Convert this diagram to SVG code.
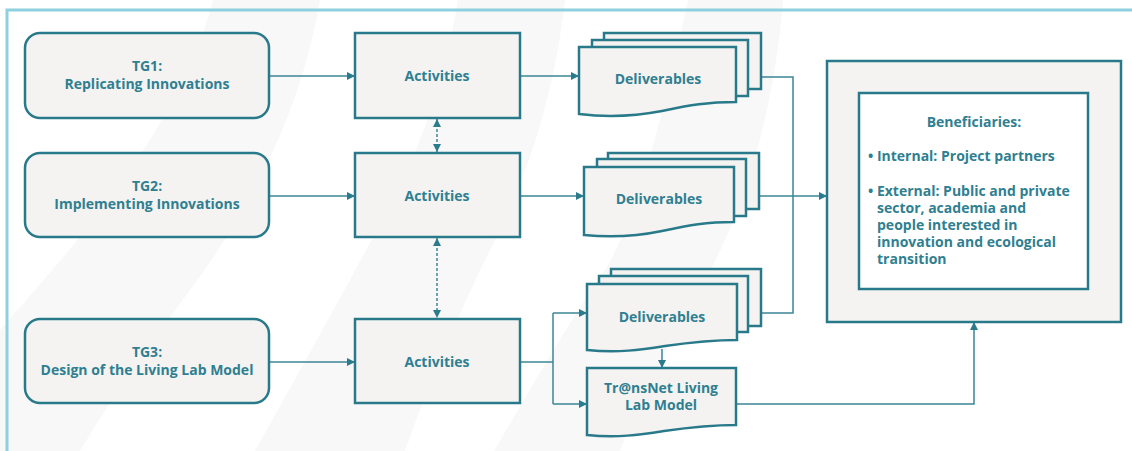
<svg xmlns="http://www.w3.org/2000/svg" width="1132" height="451" viewBox="0 0 1132 451">
  <defs>
    <style>
      .band { fill: #f8f8f8; }
      .frame { fill: none; stroke: #8fd0e0; stroke-width: 3; }
      .box { fill: #f4f3f1; stroke: #287a8b; stroke-width: 2.5; }
      .inner { fill: #ffffff; stroke: #287a8b; stroke-width: 2.5; }
      .conn { fill: none; stroke: #3b8696; stroke-width: 1.5; }
      .dash { stroke-dasharray: 3 2; }
      .lbl { font-family: "Open Sans", "Noto Sans", "Liberation Sans", sans-serif; font-weight: 700; font-size: 14px; fill: #2f7f91; text-anchor: middle; }
      .left { text-anchor: start; }
    </style>
    <marker id="arrow" viewBox="0 0 10 10" refX="10" refY="5" markerWidth="8" markerHeight="8" markerUnits="userSpaceOnUse" orient="auto">
      <path d="M0,0 L10,5 L0,10 Z" fill="#2b7b8c"/>
    </marker>
    <marker id="arrowStart" viewBox="0 0 10 10" refX="0" refY="5" markerWidth="8" markerHeight="8" markerUnits="userSpaceOnUse" orient="auto">
      <path d="M10,0 L0,5 L10,10 Z" fill="#2b7b8c"/>
    </marker>
  </defs>

  <!-- faint background sweeps -->
  <g id="background">
    <rect width="1132" height="451" fill="#ffffff"/>
    <path class="band" d="M213,0 H320 C305,90 265,190 190,290 C150,345 110,400 80,451 H0 V330 C70,250 180,130 213,0 Z"/>
    <path class="band" d="M458,0 H565 C555,90 530,170 495,240 C460,310 430,380 405,451 H255 C300,370 345,290 385,215 C420,150 445,80 458,0 Z"/>
    <path class="band" d="M688,0 H783 C775,100 750,200 705,280 C670,340 640,400 620,451 H494 C530,390 570,320 605,270 C635,220 655,150 688,0 Z"/>
  </g>

  <!-- outer frame -->
  <path class="frame" d="M7,451 V10 H1132"/>

  <!-- connectors -->
  <g id="connectors">
    <path class="conn" d="M269,76 H355" marker-end="url(#arrow)"/>
    <path class="conn" d="M269,196 H355" marker-end="url(#arrow)"/>
    <path class="conn" d="M269,362 H355" marker-end="url(#arrow)"/>
    <path class="conn" d="M520,76 H579" marker-end="url(#arrow)"/>
    <path class="conn" d="M520,196 H584" marker-end="url(#arrow)"/>
    <path class="conn" d="M520,362 H553"/>
    <path class="conn" d="M553,313 V404"/>
    <path class="conn" d="M553,313 H587" marker-end="url(#arrow)"/>
    <path class="conn" d="M553,404 H587" marker-end="url(#arrow)"/>
    <path class="conn dash" d="M437,119 V152" marker-start="url(#arrowStart)" marker-end="url(#arrow)"/>
    <path class="conn dash" d="M437,238 V318" marker-start="url(#arrowStart)" marker-end="url(#arrow)"/>
    <path class="conn" d="M761,77 H793 V313 H761"/>
    <path class="conn" d="M759,196 H827" marker-end="url(#arrow)"/>
    <path class="conn" d="M662,349 V368" marker-end="url(#arrow)"/>
    <path class="conn" d="M736,404 H974 V322" marker-end="url(#arrow)"/>
  </g>

  <!-- task groups -->
  <g id="tg1">
    <rect class="box" x="25" y="33" width="244" height="85" rx="15"/>
    <text class="lbl" x="147" y="71">TG1:</text>
    <text class="lbl" x="147" y="89">Replicating Innovations</text>
  </g>
  <g id="tg2">
    <rect class="box" x="25" y="153" width="244" height="84" rx="15"/>
    <text class="lbl" x="147" y="191">TG2:</text>
    <text class="lbl" x="147" y="209">Implementing Innovations</text>
  </g>
  <g id="tg3">
    <rect class="box" x="25" y="319" width="244" height="84" rx="15"/>
    <text class="lbl" x="147" y="357">TG3:</text>
    <text class="lbl" x="147" y="375">Design of the Living Lab Model</text>
  </g>

  <!-- activities -->
  <g id="activities1">
    <rect class="box" x="355" y="33" width="165" height="85"/>
    <text class="lbl" x="437" y="81">Activities</text>
  </g>
  <g id="activities2">
    <rect class="box" x="355" y="153" width="165" height="84"/>
    <text class="lbl" x="437" y="201">Activities</text>
  </g>
  <g id="activities3">
    <rect class="box" x="355" y="319" width="165" height="84"/>
    <text class="lbl" x="437" y="367">Activities</text>
  </g>

  <!-- deliverable stacks -->
  <g id="deliverables1">
    <rect class="box" x="604" y="33" width="157" height="56"/>
    <rect class="box" x="592" y="40" width="156" height="56"/>
    <path class="box" d="M579,47 H736 V102 C708,102 690,105 662,111 C636,116 612,118 579,114 Z"/>
    <text class="lbl" x="658" y="84">Deliverables</text>
  </g>
  <g id="deliverables2">
    <rect class="box" x="608" y="153" width="151" height="56"/>
    <rect class="box" x="597" y="159" width="149" height="57"/>
    <path class="box" d="M584,167 H734 V222 C706,222 690,225 662,231 C638,236 615,238 584,235 Z"/>
    <text class="lbl" x="659" y="204">Deliverables</text>
  </g>
  <g id="deliverables3">
    <rect class="box" x="611" y="269" width="150" height="57"/>
    <rect class="box" x="599" y="276" width="149" height="56"/>
    <path class="box" d="M587,284 H737 V340 C710,340 693,342 665,346 C640,350 618,353 587,350 Z"/>
    <text class="lbl" x="662" y="322">Deliverables</text>
  </g>
  <g id="living-lab-model">
    <path class="box" d="M587,368 H736 V425 C709,425 692,427 664,431 C639,435 617,438 587,435 Z"/>
    <text class="lbl" x="661" y="393">Tr@nsNet Living</text>
    <text class="lbl" x="661" y="410">Lab Model</text>
  </g>

  <!-- beneficiaries -->
  <g id="beneficiaries">
    <rect class="box" x="827" y="61" width="294" height="261"/>
    <rect class="inner" x="859" y="93" width="229" height="196"/>
    <text class="lbl" x="974" y="127">Beneficiaries:</text>
    <text class="lbl left" x="868" y="161">• Internal: Project partners</text>
    <text class="lbl left" x="868" y="196">• External: Public and private</text>
    <text class="lbl left" x="877" y="213">sector, academia and</text>
    <text class="lbl left" x="877" y="230">people interested in</text>
    <text class="lbl left" x="877" y="247">innovation and ecological</text>
    <text class="lbl left" x="877" y="264">transition</text>
  </g>
</svg>
